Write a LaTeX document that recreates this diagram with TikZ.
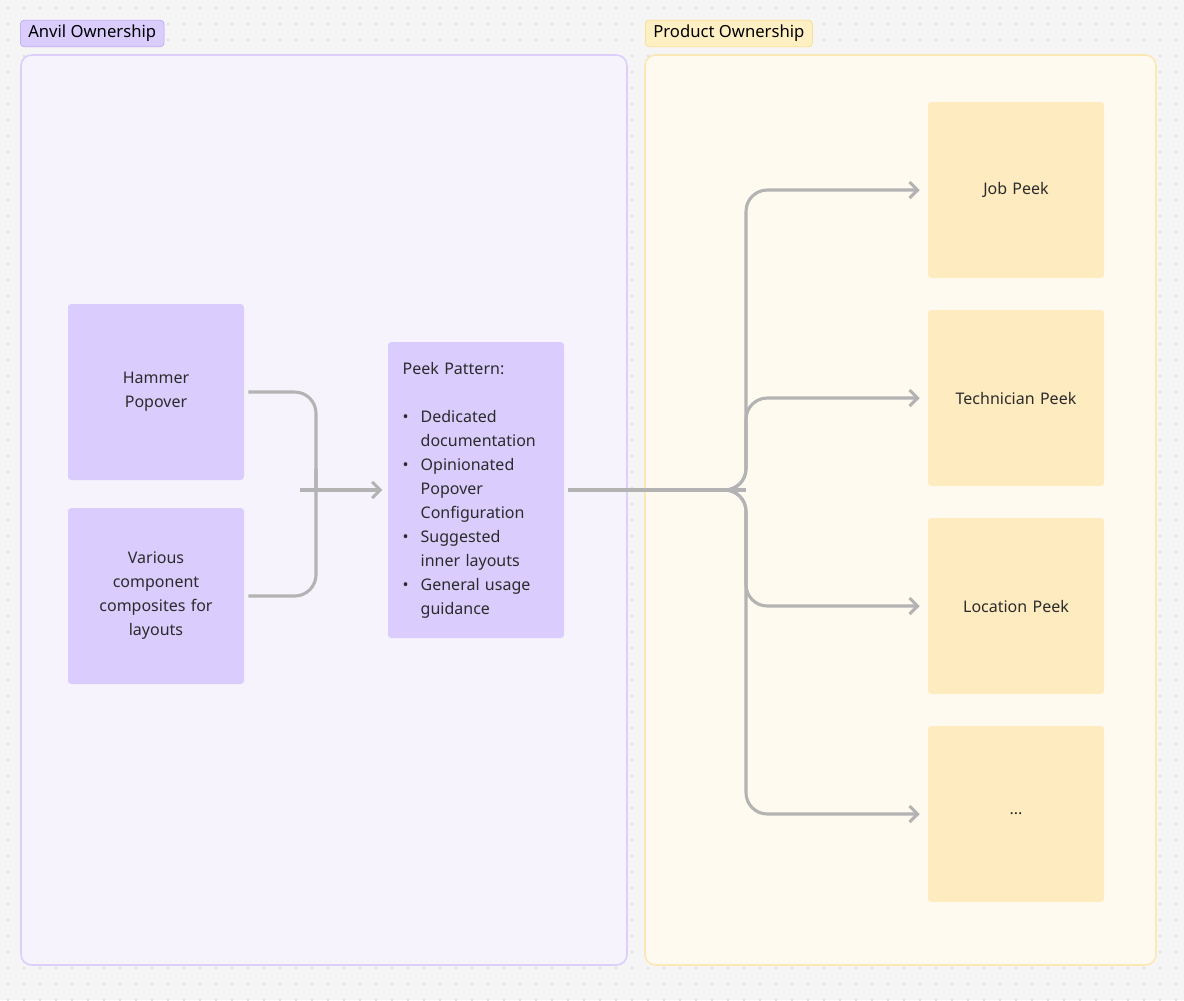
\documentclass[tikz,border=0pt]{standalone}
\usepackage{fontspec}
\setmainfont{Noto Sans}
\usetikzlibrary{arrows.meta}
\definecolor{bg}{HTML}{F5F5F5}
\definecolor{dotc}{HTML}{C8C8C8}
\definecolor{lfill}{HTML}{F6F3FD}
\definecolor{lline}{HTML}{DCCFFA}
\definecolor{pbox}{HTML}{DACDFD}
\definecolor{plab}{HTML}{B89EF5}
\definecolor{rfill}{HTML}{FFFAEF}
\definecolor{rline}{HTML}{FBE8B4}
\definecolor{ylab}{HTML}{FFF0C4}
\definecolor{ylabl}{HTML}{F7D67A}
\definecolor{ybox}{HTML}{FEEBC0}
\definecolor{conn}{HTML}{B3B3B3}
\definecolor{txt}{HTML}{2B2B2B}
\begin{document}
\begin{tikzpicture}[x=0.75pt,y=-0.75pt,
  box/.style={minimum width=132pt,minimum height=132pt,rounded corners=2.5pt,align=center,text width=110pt,font=\fontsize{12}{18}\selectfont,text=txt},
  pbx/.style={box,fill=pbox},
  ybx/.style={box,fill=ybox},
  lab/.style={rounded corners=3pt,font=\fontsize{12.5}{15}\selectfont\bfseries,inner xsep=6pt,minimum height=20pt},
  cn/.style={draw=conn,line width=2.3pt,rounded corners=16pt},
  tip/.style={-{Straight Barb[length=6pt,width=12pt,line width=2.3pt]}}]
\fill[bg] (0,0) rectangle (1184,1000);
\useasboundingbox (0,0) rectangle (1184,1000);
\foreach \i in {0,...,73}{\foreach \j in {0,...,62}{\fill[dotc] (8+16*\i,8+16*\j) circle (0.6pt);}}
\draw[fill=lfill,draw=lline,line width=1.2pt,rounded corners=8pt] (21,55) rectangle (627,965);
\draw[fill=rfill,draw=rline,line width=1.2pt,rounded corners=8pt] (645,55) rectangle (1156,965);
\node[lab,fill=pbox,draw=plab,anchor=west] (la) at (20,33.5) {Anvil Ownership};
\node[lab,fill=ylab,draw=ylabl,anchor=west] (lb) at (645,33.5) {Product Ownership};
\node[pbx] (h) at (156,392) {Hammer\\Popover};
\node[pbx] (v) at (156,596) {Various\\component\\composites for\\layouts};
\node[pbx,minimum height=222pt,text width=110pt,align=left] (p) at (476,490) {%
\begin{tabular}{@{}l@{\hspace{9pt}}l@{}}
\multicolumn{2}{@{}l}{Peek Pattern:}\\[18pt]
\textbullet & Dedicated\\ & documentation\\
\textbullet & Opinionated\\ & Popover\\ & Configuration\\
\textbullet & Suggested\\ & inner layouts\\
\textbullet & General usage\\ & guidance
\end{tabular}};
\node[ybx] (j) at (1016,190) {Job Peek};
\node[ybx] (t) at (1016,398) {Technician Peek};
\node[ybx] (l) at (1016,606) {Location Peek};
\node[ybx] (d) at (1016,814) {...};
\coordinate (m) at (316,490);
\coordinate (b) at (746,490);
\draw[cn] ([xshift=3pt]h.east|-0,392) -- (316,392) -- (316,490) -- (m);
\draw[cn] ([xshift=3pt]v.east|-0,596) -- (316,596) -- (316,490) -- (m);
\draw[cn,tip] (300,490) -- ([xshift=-4pt]p.west);
\draw[cn] ([xshift=3pt]p.east) -- (b);
\foreach \n/\y in {j/190,t/398,l/606,d/814}{
  \draw[cn,tip] (720,490) -- (746,490) -- (746,\y) -- ([xshift=-6pt]\n.west|-0,\y);}
\end{tikzpicture}
\end{document}
